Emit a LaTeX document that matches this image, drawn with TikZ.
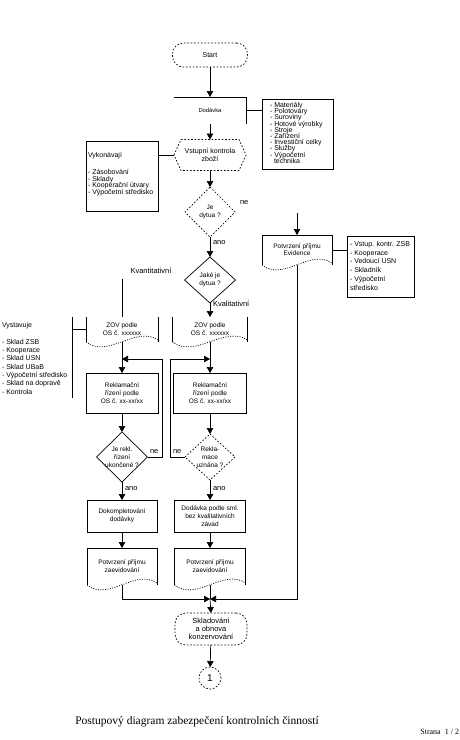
\documentclass[tikz,border=0pt]{standalone}
\usepackage{fontspec}
\setmainfont{Liberation Sans}
\newfontfamily\titlefont{Liberation Serif}
\usetikzlibrary{arrows.meta,calc}
\newcommand\docsides[1]{%
  \draw[ln] (#1.north west) -- (#1.south west) (#1.north east) -- (#1.south east);
  \draw[ln,dot] (#1.south west) .. controls +(22,17) and +(-22,-15) .. ($(#1.south east)+(0,-2)$);}
\newcommand\diamondframe[2]{%
  \draw[ln,#2] (#1.north) -- (#1.east) -- (#1.south) -- (#1.west) -- cycle;}
\newcommand\fsz[2]{\fontsize{#1}{#2}\selectfont\lineskiplimit=-10pt\relax}
\begin{document}
\begin{tikzpicture}[x=1pt,y=-1pt,
  every node/.style={inner sep=0pt, outer sep=0pt},
  ln/.style={line width=0.7pt},
  txt/.style={font=\fsz{6.5}{8}, align=center},
  lab/.style={font=\fsz{7.5}{9}},
  lst/.style={font=\fsz{7}{6.8}, align=left},
  frame/.style={draw, line width=0.7pt},
  dsh/.style={dash pattern=on 1.6pt off 1.8pt},
  dot/.style={dash pattern=on 1pt off 1.4pt},
  arr/.style={-{Triangle[length=6pt,width=6.5pt]}},
]
\useasboundingbox (0,0) rectangle (460,740);

% Start
\node[txt, font=\fsz{7}{8}, draw, ln, dsh, rounded corners=11pt,
      minimum width=75pt, minimum height=24pt] (start) at (210,55) {Start};

% Dodavka
\node[txt, font=\fsz{5.8}{7}, minimum width=72pt, minimum height=27pt] (dod) at (210,110.5) {Dodávka};
\draw[ln] (dod.north west) -- (dod.north east) -- (dod.south east);
\draw[ln,arr] (start) -- (dod);

% Materialy box
\node[frame, minimum width=71pt, minimum height=70pt, anchor=north west] (mat) at (262,99) {};
\node[lst, font=\fsz{7}{6.2}, anchor=north west] (matT) at (270,102.3)
  {- Materiály\\- Polotovary\\- Suroviny\\- Hotové výrobky\\- Stroje\\- Zařízení\\- Investiční celky\\- Služby\\- Výpočetní\\\hspace*{4pt}technika};
\draw[ln] (dod.east) -- (mat.west |- dod.east);

% Vstupni kontrola (hexagon)
\node[txt, font=\fsz{7}{8}, minimum width=72pt, minimum height=31pt] (vk) at (210,155) {Vstupní kontrola\\zboží};
\draw[ln,dsh] (vk.west) -- ([xshift=7pt]vk.north west) -- ([xshift=-7pt]vk.north east) -- (vk.east)
  -- ([xshift=-7pt]vk.south east) -- ([xshift=7pt]vk.south west) -- cycle;
\draw[ln,arr] (dod) -- (vk);

% Vykonavaji box
\node[frame, minimum width=72pt, minimum height=70pt, anchor=north west] (vyk) at (86,141) {};
\node[lst, font=\fsz{7}{6.7}, anchor=north west] (vykT) at (88,152.3)
  {Vykonávají\\[10.3pt]- Zásobování\\- Sklady\\- Kooperační útvary\\- Výpočetní středisko};
\draw[ln] (vyk.east |- vk.west) -- (vk.west);

% Decision 1
\node[txt, minimum width=50pt, minimum height=50pt] (d1) at (210,212) {Je\\dytua ?};
\diamondframe{d1}{dsh}
\draw[ln,arr] (vk.south) -- (d1.north);
\node[lab, anchor=west] (ne1) at (240,203) {ne};
\coordinate (neTop) at (297,213);

% Decision 2
\node[txt, minimum width=51pt, minimum height=46pt] (d2) at (210,280) {Jaké je\\dytua ?};
\diamondframe{d2}{solid}
\draw[ln,arr] (d1.south) -- (d2.north);
\node[lab, anchor=west] (ano1) at (213,243) {ano};
\node[lab] (kvant) at (151,271) {Kvantitativní};
\node[lab, anchor=west] (kval) at (213,304) {Kvalitativní};

% Potvrzeni prijmu Evidence
\node[txt, font=\fsz{6.5}{7}, minimum width=70pt, minimum height=30pt] (ev) at (297,250) {Potvrzení příjmu\\Evidence};
\draw[ln] (ev.north west) -- (ev.north east);
\docsides{ev}
\draw[ln,arr] (neTop) -- (ev.north);
\node[frame, minimum width=67pt, minimum height=61pt, anchor=north west] (evl) at (347,236) {};
\node[lst, font=\fsz{7}{8.8}, anchor=north west] (evlT) at (350,241.3)
  {- Vstup. kontr. ZSB\\- Kooperace\\- Vedoucí USN\\- Skladník\\- Výpočetní\\středisko};
\draw[ln] (ev.east) -- (evl.west |- ev.east);

% ZOV documents
\node[txt, minimum width=72pt, minimum height=25pt] (zovL) at (122,329.5) {ZOV podle\\OS č. xxxxxx};
\docsides{zovL}
\node[txt, minimum width=75pt, minimum height=25pt] (zovR) at (210,329.5) {ZOV podle\\OS č. xxxxxx};
\docsides{zovR}
\coordinate (kvTop) at (122,279);
\draw[ln] (kvTop) -- (zovL.north);
\draw[ln,arr] (d2.south) -- (zovR.north);

% Vystavuje
\node[minimum width=72pt, minimum height=81pt, anchor=north west] (vys) at (0,317) {};
\draw[ln] (vys.north east) -- (vys.south east);
\node[lst, font=\fsz{7}{8.3}, anchor=north west] (vysT) at (2,322.3)
  {Vystavuje\\[8.7pt]- Sklad ZSB\\- Kooperace\\- Sklad USN\\- Sklad UBaB\\- Výpočetní středisko\\- Sklad na dopravě\\- Kontrola};
\draw[ln] (vys.east |- zovL.west) -- (zovL.west);

% Reklamacni rizeni
\node[frame, txt, minimum width=72pt, minimum height=40pt] (rekL) at (122,393) {Reklamační\\řízení podle\\OS č. xx-xx/xx};
\node[frame, txt, minimum width=73pt, minimum height=40pt] (rekR) at (210,393) {Reklamační\\řízení podle\\OS č. xx-xx/xx};
\draw[ln,arr] (zovL.south) -- (rekL.north);
\draw[ln,arr] (zovR.south) -- (rekR.north);

% Decisions 3, 4
\node[txt, minimum width=51pt, minimum height=50pt] (d3) at (122,457) {Je rekl.\\řízení\\ukončené ?};
\diamondframe{d3}{solid}
\node[txt, minimum width=50pt, minimum height=46pt] (d4) at (210,457) {Rekla-\\mace\\uznána ?};
\diamondframe{d4}{dsh}
\draw[ln,arr] (rekL.south) -- (d3.north);
\draw[ln,arr] (rekR.south) -- (d4.north);

% loops
\coordinate (loopL) at (162,359);
\coordinate (joinL) at (122,359);
\coordinate (loopR) at (170,359);
\coordinate (joinR) at (210,359);
\draw[ln,arr] (d3.east) -| (loopL) -- (joinL);
\draw[ln,arr] (d4.west) -| (loopR) -- (joinR);
\node[lab, anchor=west] (ne2) at (150,452) {ne};
\node[lab, anchor=west] (ne3) at (173,452) {ne};
\node[lab, anchor=west] (ano2) at (125,489) {ano};
\node[lab, anchor=west] (ano3) at (213,489) {ano};

% Boxes
\node[frame, txt, minimum width=70pt, minimum height=32pt] (dok) at (122,516) {Dokompletování\\dodávky};
\node[frame, txt, minimum width=71pt, minimum height=32pt] (dsm) at (210,516) {Dodávka podle sml.\\bez kvalitativních\\závad};
\draw[ln,arr] (d3.south) -- (dok.north);
\draw[ln,arr] (d4.south) -- (dsm.north);

% Potvrzeni docs
\node[txt, minimum width=70pt, minimum height=37pt] (potL) at (122,566.5) {Potvrzení příjmu\\zaevidování};
\draw[ln] (potL.north west) -- (potL.north east);
\docsides{potL}
\node[txt, minimum width=71pt, minimum height=37pt] (potR) at (210,566.5) {Potvrzení příjmu\\zaevidování};
\draw[ln] (potR.north west) -- (potR.north east);
\docsides{potR}
\draw[ln,arr] (dok.south) -- (potL.north);
\draw[ln,arr] (dsm.south) -- (potR.north);

% merge
\coordinate (m) at (210,599);
\draw[ln,arr] (potL.south) |- (m);
\draw[ln,arr] (ev.south) |- (m);
\draw[ln] (potR.south) -- (m);

% Skladovani
\node[txt, font=\fsz{7.5}{8}, draw, ln, dsh, rounded corners=11pt,
      minimum width=72pt, minimum height=32pt] (skl) at (211,629) {Skladování\\a obnova\\konzervování};
\draw[ln,arr] (m) -- (skl.north);

% connector circle
\node[draw, ln, dsh, circle, minimum size=22pt, font=\fsz{10}{10}] (c1) at (210,678) {1};
\draw[ln,arr] (skl) -- (c1);

% Title
\node[font=\titlefont\fontsize{11.5}{12}\selectfont] (title) at (197,722) {Postupový diagram zabezpečení kontrolních činností};
\node[font=\titlefont\fontsize{8}{9}\selectfont, anchor=east] (page) at (459,732) {Strana\ \ 1 / 2};
\end{tikzpicture}
\end{document}
